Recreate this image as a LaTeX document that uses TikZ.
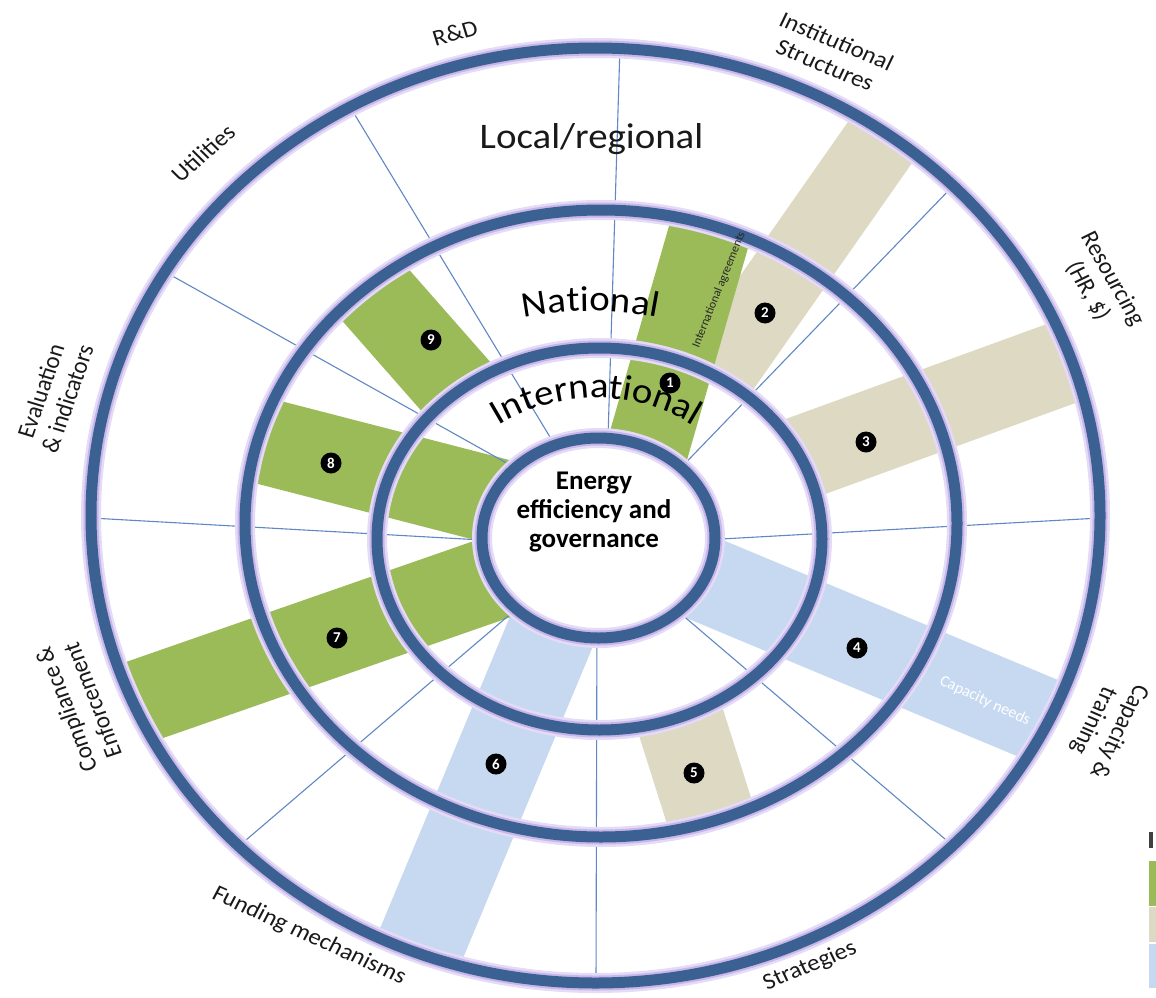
\documentclass[tikz,border=0pt]{standalone}
\usepackage{fontspec}
\setmainfont{Carlito}
\newfontfamily\widefont[FakeStretch=1.08]{Carlito}
\usetikzlibrary{calc,decorations.text}
\definecolor{ringblue}{RGB}{59,96,146}
\definecolor{glow}{RGB}{200,182,234}
\definecolor{glowout}{RGB}{228,219,246}
\definecolor{spokeblue}{RGB}{96,136,196}
\definecolor{bgreen}{RGB}{155,187,89}
\definecolor{btan}{RGB}{221,217,195}
\definecolor{bblue}{RGB}{198,217,241}
\definecolor{labeltext}{RGB}{25,25,25}
\newcommand\bandstrip[4]{%
  \fill[#4] ($(#1)!#3!90:(#2)$) -- ($(#2)!#3!-90:(#1)$) -- ($(#2)!#3!90:(#1)$) -- ($(#1)!#3!-90:(#2)$) -- cycle;}
\newcommand\ringfont{\widefont\fontsize{36}{36}\selectfont}
\tikzset{
  ringline/.style={draw=ringblue, line width=11pt},
  ringglow/.style={draw=glow, line width=15pt},
  ringhalo/.style={draw=glowout, line width=20pt},
  spoke/.style={draw=spokeblue, line width=1.1pt},
  marker/.style={circle, fill=black, text=white, inner sep=0pt, minimum size=21pt, font=\bfseries\fontsize{15}{15}\selectfont},
  outlabel/.style={font=\fontsize{23}{26}\selectfont, text=labeltext, align=center, inner sep=0pt, transform shape, xscale=1.08},
  e0/.style={x radius=504.5pt, y radius=467.5pt},
  e1/.style={x radius=356pt, y radius=313.5pt},
  e2/.style={x radius=222.5pt, y radius=191pt},
  e3/.style={x radius=116.5pt, y radius=100pt},
}
\begin{document}
\begin{tikzpicture}[x=1pt,y=-1pt]
\useasboundingbox (0,0) rectangle (1156,998);
\fill[white] (0,0) rectangle (1156,998);
\coordinate (E0) at (595.5,515.5);
\coordinate (E1) at (601,523.5);
\coordinate (E2) at (599.5,539);
\coordinate (E3) at (598.5,538);

% bands between ring 2 and the outer ring
\begin{scope}[even odd rule]
  \clip (E0) ellipse [e0] (E2) ellipse [e2];
  \bandstrip{690,413.6}{902.4,110.5}{38pt}{btan}
  \bandstrip{759,473.4}{1097.4,350.3}{42pt}{btan}
\end{scope}
% bands in the national ring only
\begin{scope}[even odd rule]
  \clip (E1) ellipse [e1] (E2) ellipse [e2];
  \bandstrip{669.9,687.4}{721,848.6}{44pt}{btan}
  \bandstrip{480.9,415}{349.1,265}{42pt}{bgreen}
\end{scope}
% bands from the centre to the national ring
\begin{scope}
  \clip (E1) ellipse [e1];
  \bandstrip{638,482}{722,190}{41pt}{bgreen}
  \bandstrip{529,509.5}{242,435.4}{43pt}{bgreen}
\end{scope}
% bands from the centre to the outer ring
\begin{scope}
  \clip (E0) ellipse [e0];
  \bandstrip{668,563.7}{1074,733.3}{43pt}{bblue}
  \bandstrip{566.4,595.6}{409.6,971.9}{44pt}{bblue}
  \bandstrip{528.3,566.5}{105.7,713.5}{42pt}{bgreen}
\end{scope}

% spokes
\coordinate (s1i) at (607,470);   \coordinate (s1o) at (620,46);
\coordinate (s2i) at (669,480);   \coordinate (s2o) at (951,188);
\coordinate (s3i) at (685,541);   \coordinate (s3o) at (1100,518);
\coordinate (s4i) at (663,598.5); \coordinate (s4o) at (952,845);
\coordinate (s5i) at (597,608);   \coordinate (s5o) at (596,983);
\coordinate (s6i) at (528,599);   \coordinate (s6o) at (239,846);
\coordinate (s7i) at (512,541.7); \coordinate (s7o) at (91,518);
\coordinate (s8i) at (528,475);   \coordinate (s8o) at (167,273);
\coordinate (s9i) at (565.5,462.6); \coordinate (s9o) at (351,108.5);
\foreach \k in {1,...,9} { \draw[spoke] (s\k i) -- (s\k o); }

% centre disc
\fill[white] (E3) ellipse [e3];

% rings with their soft lavender halo
\foreach \e in {0,1,2,3} { \draw[ringhalo] (E\e) ellipse [e\e]; }
\foreach \e in {0,1,2,3} { \draw[ringglow] (E\e) ellipse [e\e]; }
\foreach \e in {0,1,2,3} { \draw[ringline] (E\e) ellipse [e\e]; }

% level names
\node[font=\ringfont, text=labeltext, anchor=base, inner sep=0pt] (local) at (591.5,148) {Local/regional};
\path[decorate, decoration={text along path, text align=center, text={|\ringfont|National}}]
  ($(590.5,661)+(245:350)$) arc[start angle=245, end angle=295, radius=350];
\path[decorate, decoration={text along path, text align=center, text={|\ringfont|International}}]
  ($(596,583)+(200:185)$) arc[start angle=200, end angle=340, radius=185];

% centre text
\node[font=\bfseries\fontsize{27}{29}\selectfont, align=center, inner sep=0pt] (core) at (594,512)
  {Energy\\efficiency and\\governance};

% band annotations
\node[font=\fontsize{12}{12}\selectfont, text=black!85, rotate=68, inner sep=0pt] (intagr) at (719,290) {International agreements};
\node[font=\fontsize{16}{16}\selectfont, text=white, rotate=-25, inner sep=0pt] (capneeds) at (985,701) {Capacity needs};

% markers
\node[marker] (m1) at (670,383) {1};
\node[marker] (m2) at (765,313) {2};
\node[marker] (m3) at (866,442) {3};
\node[marker] (m4) at (857,648) {4};
\node[marker] (m5) at (694,773) {5};
\node[marker] (m6) at (496,764) {6};
\node[marker] (m7) at (337,638) {7};
\node[marker] (m8) at (331,463) {8};
\node[marker] (m9) at (431,340) {9};

% outer labels
\node[outlabel, rotate=16] (rd) at (455,33) {R\&D};
\node[outlabel, rotate=-24] (inst) at (831,53) {Institutional\\Structures};
\node[outlabel, rotate=-62] (res) at (1100,285) {Resourcing\\(HR, \$)};
\node[outlabel, rotate=-115] (cap) at (1106,726) {Capacity \&\\training};
\node[outlabel, rotate=24] (strat) at (810,966) {Strategies};
\node[outlabel, rotate=-26] (fund) at (309,936) {Funding mechanisms};
\node[outlabel, rotate=110] (comp) at (79,705) {Compliance \&\\Enforcement};
\node[outlabel, rotate=72] (eval) at (54,395) {Evaluation\\\& indicators};
\node[outlabel, rotate=43] (util) at (203,153) {Utilities};

% legend fragment at the right edge
\fill[black!75] (1149,832) rectangle (1153,848);
\fill[bgreen] (1149,861) rectangle (1156,906);
\fill[btan] (1149,907) rectangle (1156,942);
\fill[bblue] (1149,944) rectangle (1156,988);
\end{tikzpicture}
\end{document}
